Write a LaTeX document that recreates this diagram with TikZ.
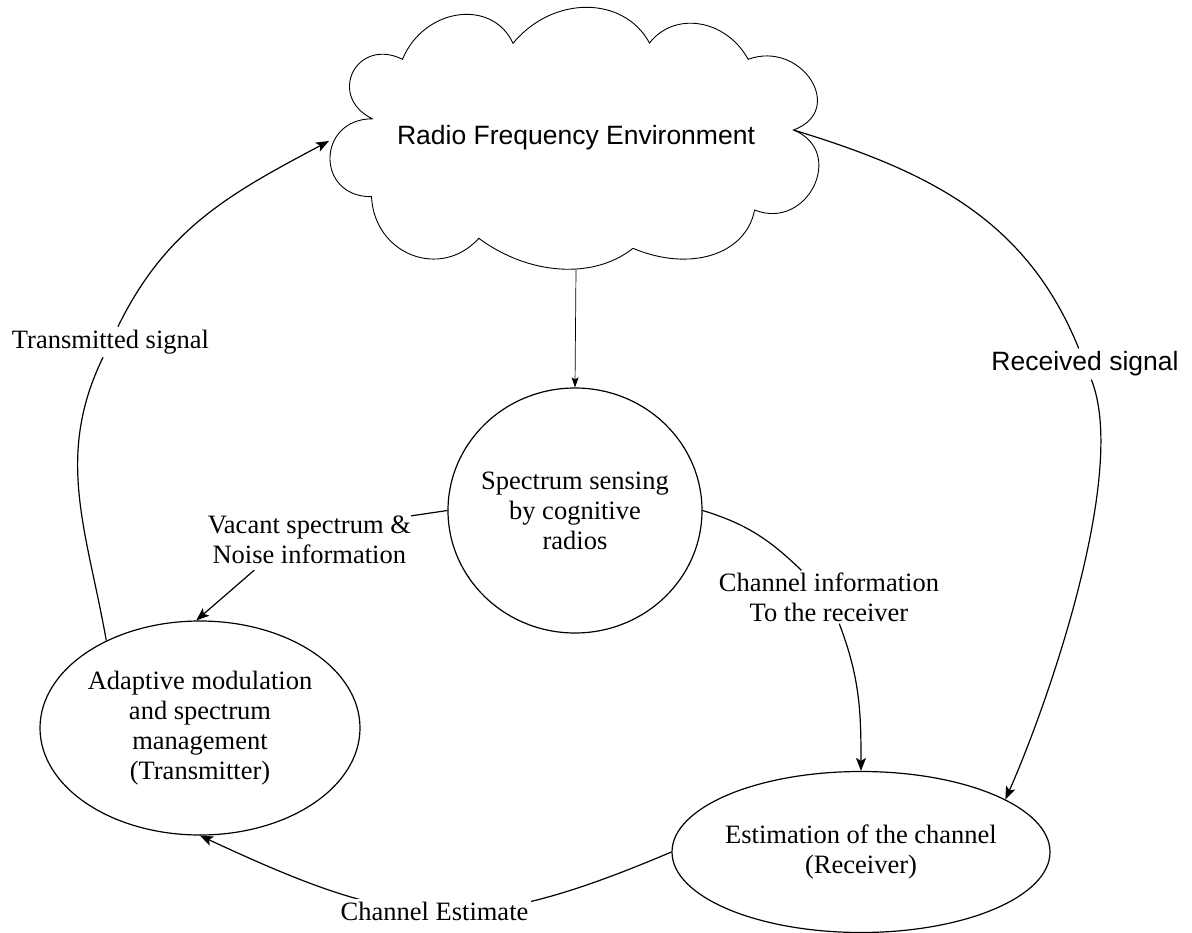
\documentclass[tikz,border=0pt]{standalone}
\usepackage{fontspec}
\setmainfont{Liberation Serif}
\newfontfamily\arialfont{Liberation Sans}
\usetikzlibrary{calc,arrows.meta,shapes.geometric}

\begin{document}
\begin{tikzpicture}[x=1pt,y=-1pt,
  puff/.style n args={5}{insert path={.. controls ($#4*(#1) + 1.3333*(#2) - #5*(#3)$) and ($#4*(#3) + 1.3333*(#2) - #5*(#1)$) .. (#3)}},
  oval/.style={draw, line width=1.2pt, ellipse, inner sep=0pt, align=center, font=\fontsize{26.5}{30}\selectfont},
  lbl/.style={inner sep=2pt, align=center, font=\fontsize{26.5}{30}\selectfont},
  sanslbl/.style={lbl, font=\arialfont\fontsize{26.5}{30}\selectfont},
  conn/.style={line width=1.2pt},
  arr/.style={conn, -{Stealth[length=13pt,width=10pt,inset=3pt]}},
  thinarr/.style={line width=0.7pt, -{Stealth[length=10pt,width=7pt,inset=2pt]}},
]
\useasboundingbox (0,0) rectangle (1192,933);

% cloud outline (cusps and puff peaks)
\coordinate (c1) at (402.5,59.3);
\coordinate (c2) at (513,43.3);
\coordinate (c3) at (649.5,43);
\coordinate (c4) at (748.2,59.3);
\coordinate (c5) at (793.5,130);
\coordinate (c6) at (754.6,210);
\coordinate (c7) at (633,248.3);
\coordinate (c8) at (478.8,238.3);
\coordinate (c9) at (371.5,196.7);
\coordinate (c10) at (372.3,118.8);
\coordinate (p1) at (457.9,15);
\coordinate (p2) at (586.4,7.3);
\coordinate (p3) at (700,24);
\coordinate (p4) at (811,80);
\coordinate (p5) at (814,186);
\coordinate (p6) at (712,255);
\coordinate (p7) at (560,269);
\coordinate (p8) at (412,255);
\coordinate (p9) at (330,158);
\coordinate (p10) at (353,72);
\draw[line width=0.9pt, line join=miter]
  (c1) [puff={c1}{p1}{c2}{0.1433}{0.4767}] [puff={c2}{p2}{c3}{0.0933}{0.4267}]
  [puff={c3}{p3}{c4}{0.0933}{0.4267}] [puff={c4}{p4}{c5}{0.3333}{0.6667}]
  [puff={c5}{p5}{c6}{0.3333}{0.6667}] [puff={c6}{p6}{c7}{0.0633}{0.3967}]
  [puff={c7}{p7}{c8}{0.0433}{0.3767}] [puff={c8}{p8}{c9}{0.1433}{0.4767}]
  [puff={c9}{p9}{c10}{0.3333}{0.6667}] [puff={c10}{p10}{c1}{0.3333}{0.6667}] -- cycle;
\node[sanslbl] (rfe) at (576,138) {Radio Frequency Environment};
\coordinate (cb) at (576,269.5);
\coordinate (cl) at (329,141);

% main nodes
\node[oval, inner xsep=-5pt, minimum width=254pt, minimum height=245pt] (sense) at (575,510.5) {Spectrum sensing\\by cognitive\\radios};
\node[oval, minimum width=320pt, minimum height=214pt] (adapt) at (200,728) {Adaptive modulation\\and spectrum\\management\\(Transmitter)};
\node[oval, inner xsep=-6pt, minimum width=378pt, minimum height=161pt] (recv) at (861,852) {Estimation of the channel\\(Receiver)};

% labels
\node[lbl, inner sep=3pt] (ts) at (110.5,342) {Transmitted signal};
\node[sanslbl, inner sep=3pt] (rs) at (1085,364) {Received signal};
\node[lbl] (ci) at (829,597) {Channel information\\To the receiver};
\node[lbl, inner sep=0pt] (vac) at (309.3,540) {Vacant spectrum \&\\Noise information};

% connectors
\draw[thinarr] (cb) -- (sense.north);
\draw[arr] (adapt.137) to[out=100,in=-116] (ts) to[out=64,in=208] (cl);
\draw[arr] (c5) to[out=-17,in=112] (rs) to[out=-68,in=66,looseness=0.6] (recv.20);
\draw[arr] (sense.east) to[out=-17,in=136] (ci) to[out=-69,in=90] (recv.north);
\draw[conn] (sense.west) -- (vac.north east);
\draw[arr] ([xshift=-55pt,yshift=-6pt]vac.south) -- (adapt.92);
\draw[arr] (recv.west) to[out=203,in=-25,looseness=1.2] node[lbl, fill=white, inner sep=3pt] (ce) {Channel Estimate} (adapt.south);
\end{tikzpicture}
\end{document}
